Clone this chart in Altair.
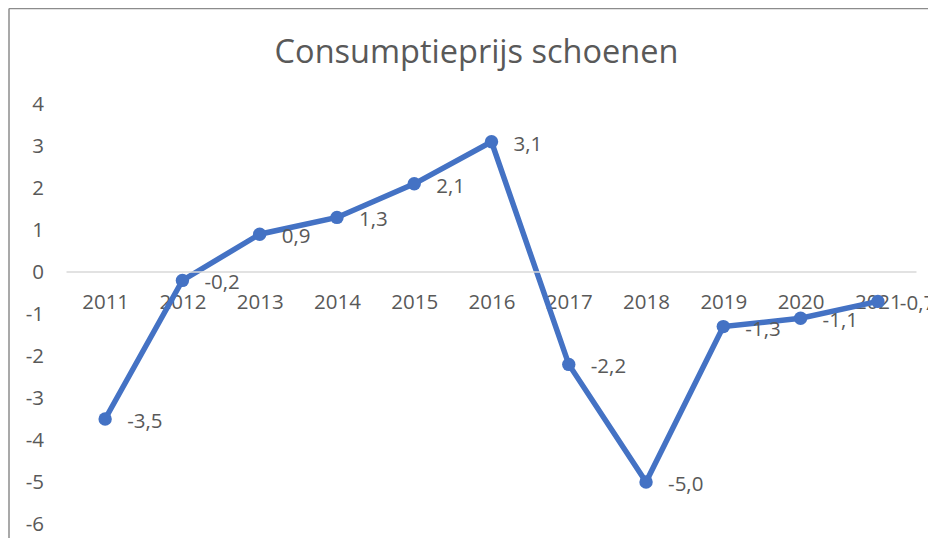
import altair as alt
import pandas as pd

years = ["2011", "2012", "2013", "2014", "2015", "2016", "2017", "2018", "2019", "2020", "2021"]
values = [-3.5, -0.2, 0.9, 1.3, 2.1, 3.1, -2.2, -5.0, -1.3, -1.1, -0.7]
y_ticks = [4, 3, 2, 1, 0, -1, -2, -3, -4, -5, -6]
title_text = "Consumptieprijs schoenen"

df = pd.DataFrame({"jaar": years, "waarde": values})
df["label"] = [f"{v:.1f}".replace(".", ",") for v in values]

W, H = 850, 420
YMIN, YMAX = -6, 4
FONT = "Open Sans"
TXT = "#595959"
BLUE = "#4472C4"
FS = 20.5

x_enc = alt.X("jaar:O", sort=years, title=None,
              scale=alt.Scale(paddingInner=0, paddingOuter=0),
              axis=alt.Axis(labelAngle=0, ticks=False, domain=False, grid=False,
                            offset=-H * (0 - YMIN) / (YMAX - YMIN),
                            labelPadding=20, labelFontSize=FS, labelColor=TXT,
                            labelFont=FONT))
y_enc = alt.Y("waarde:Q", title=None,
              scale=alt.Scale(domain=[YMIN, YMAX], nice=False, zero=False),
              axis=alt.Axis(values=y_ticks, grid=False, ticks=False, domain=False,
                            labelPadding=23, labelFontSize=FS, labelColor=TXT,
                            labelFont=FONT, labelExpr="datum.value + ''"))

base = alt.Chart(df)
line = base.mark_line(color=BLUE, strokeWidth=5.5).encode(x=x_enc, y=y_enc)
pts = base.mark_circle(color=BLUE, size=180, opacity=1).encode(x=x_enc, y=y_enc)
labels = base.mark_text(align="left", baseline="middle", dx=22, dy=3,
                        fontSize=FS, font=FONT, color=TXT).encode(
    x=x_enc, y=y_enc, text="label:N")

zero = alt.Chart(pd.DataFrame({"z": [0]})).mark_rule(color="#d9d9d9", strokeWidth=1.5).encode(
    y=alt.datum(0))

title = alt.Chart(pd.DataFrame({"t": [title_text]})).mark_text(
    align="center", baseline="alphabetic", fontSize=32.5, font=FONT, color=TXT).encode(
    text="t:N", x=alt.value(410), y=alt.value(-41))

frame_left = alt.Chart(pd.DataFrame({"a": [0]})).mark_rule(color="#8c8c8c", strokeWidth=1.5).encode(
    x=alt.value(-57.5), y=alt.value(-95.5), y2=alt.value(H + 20))
frame_top = alt.Chart(pd.DataFrame({"a": [0]})).mark_rule(color="#8c8c8c", strokeWidth=1.5).encode(
    y=alt.value(-95.5), x=alt.value(-57.5), x2=alt.value(W + 20))

chart = alt.layer(line, zero, pts, labels, title, frame_left, frame_top).properties(
    width=W, height=H,
    autosize=alt.AutoSizeParams(type="none"),
    padding={"left": 58.5, "top": 96, "right": 11.5, "bottom": 14},
).configure_view(stroke=None)

chart.save("out.html", embed_options={"renderer": "svg", "actions": False})
